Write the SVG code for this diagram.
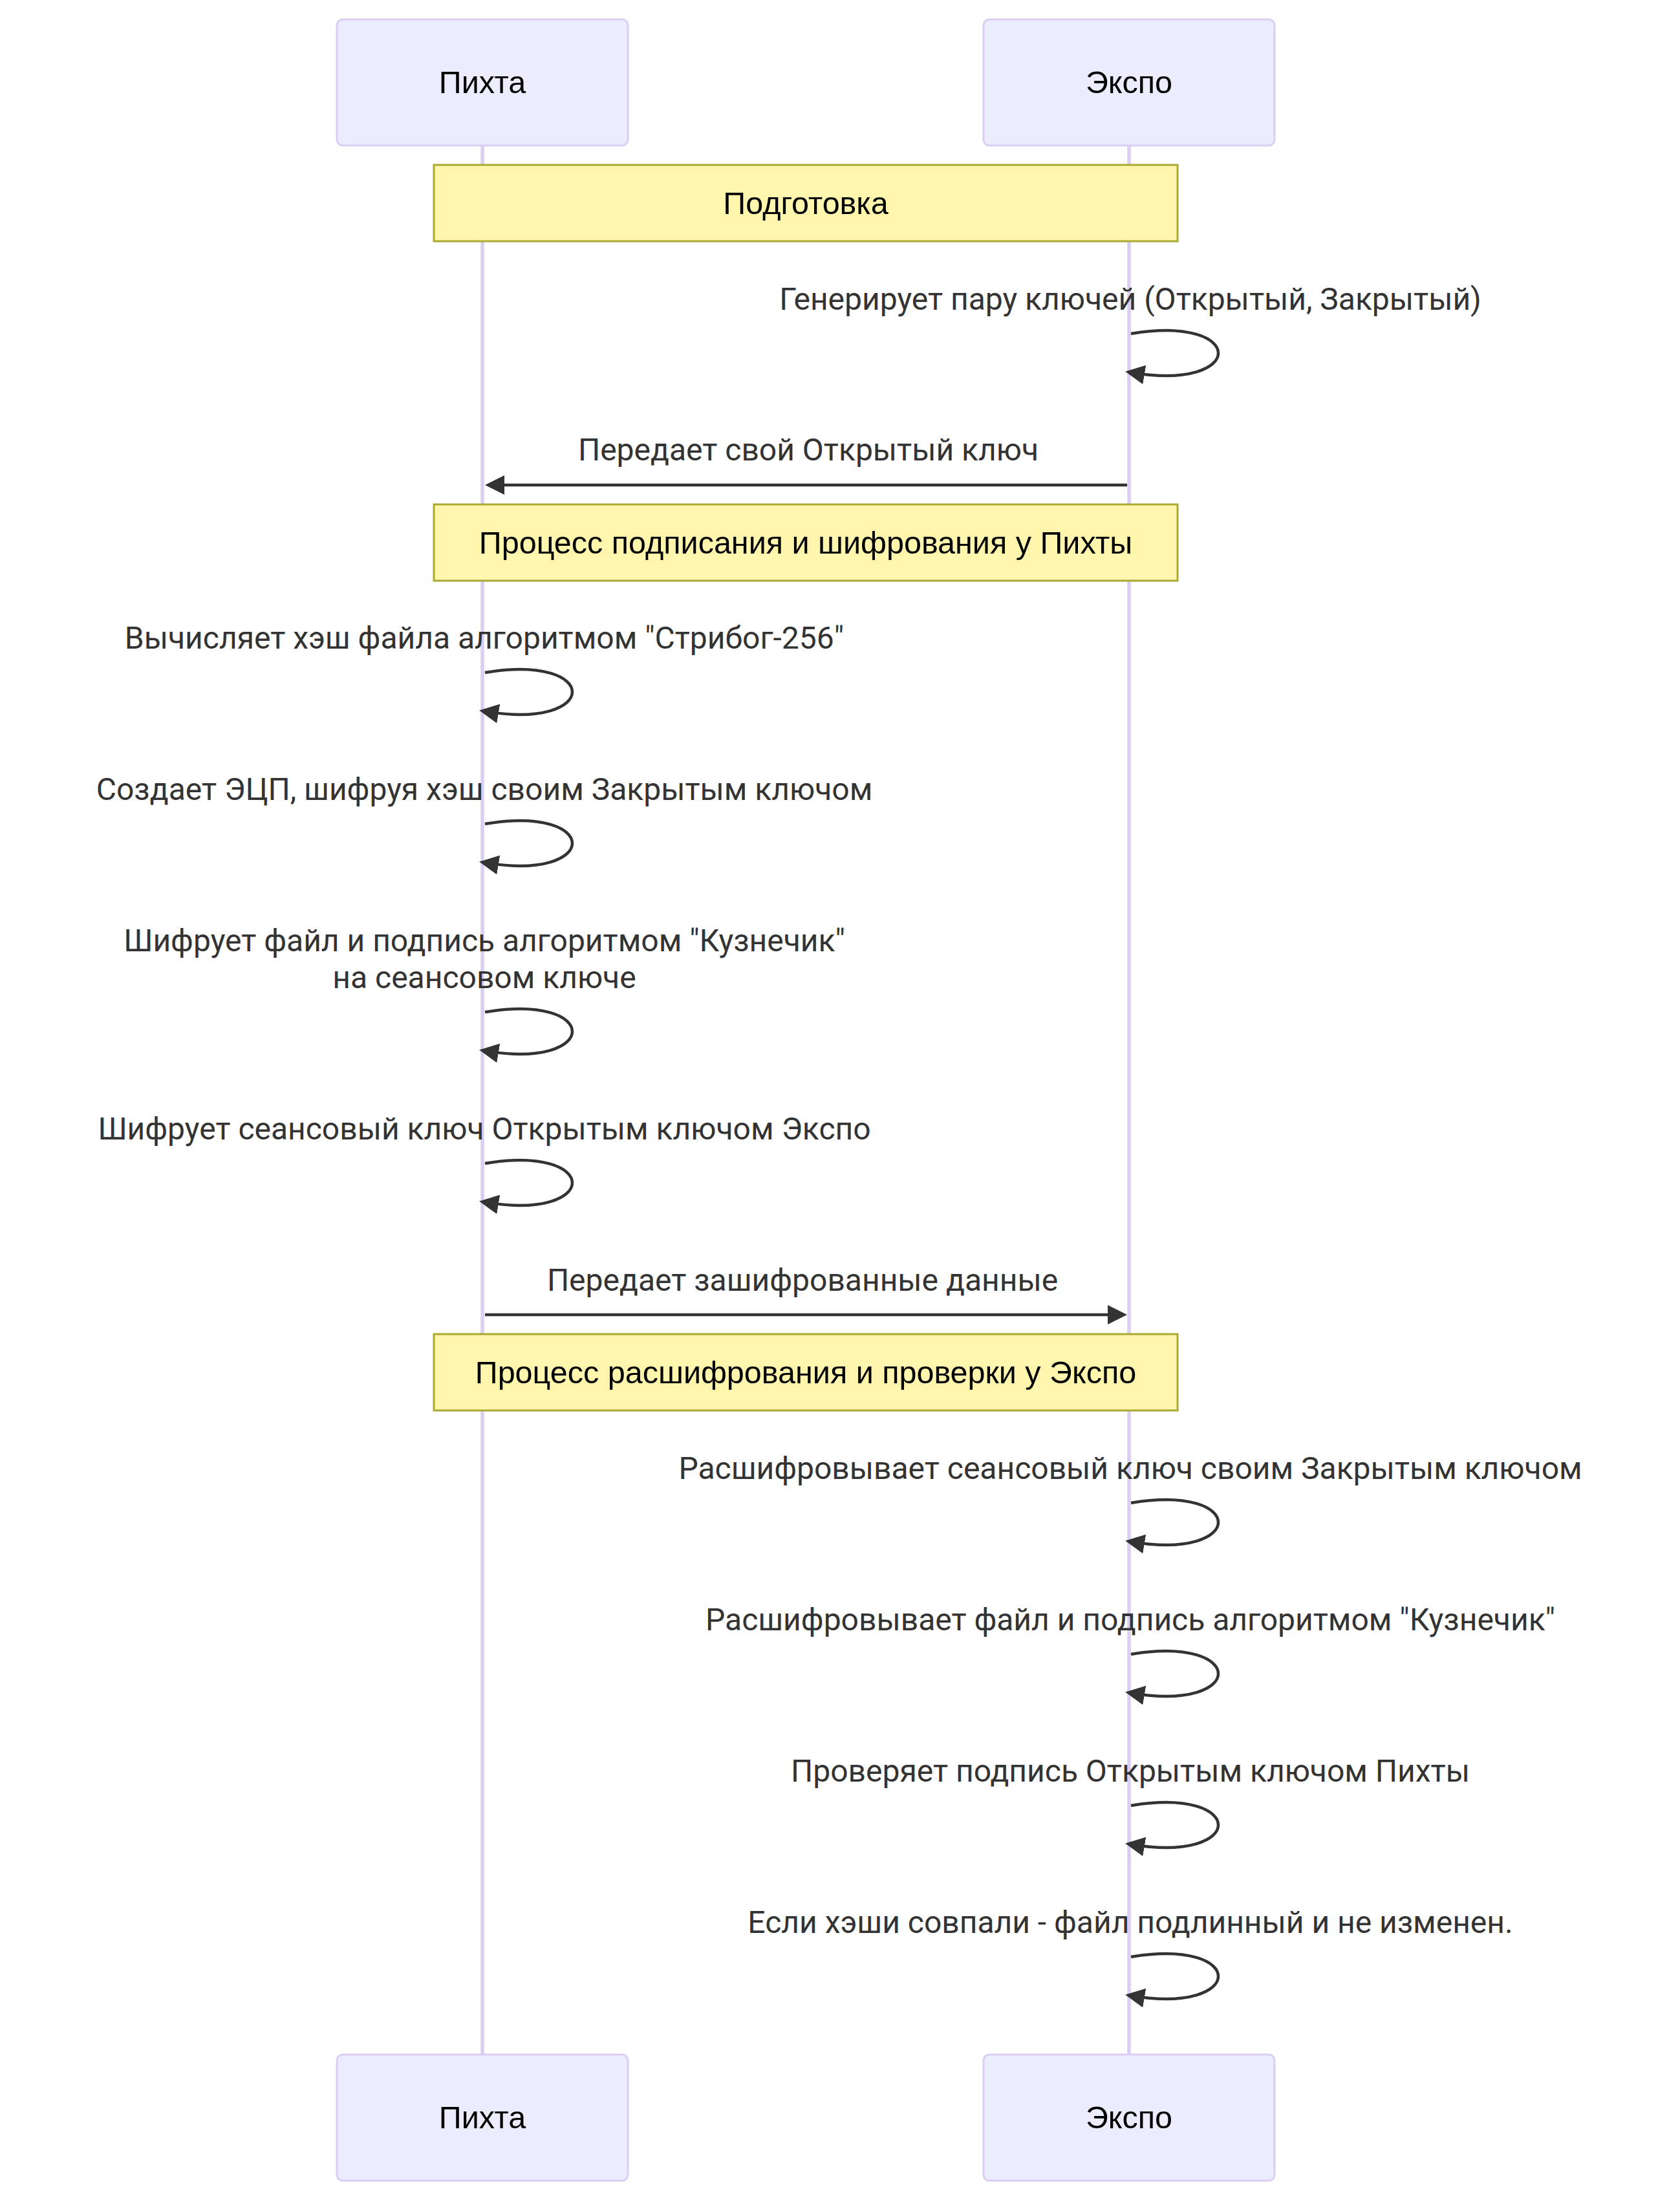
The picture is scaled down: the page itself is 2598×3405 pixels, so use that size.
<svg xmlns="http://www.w3.org/2000/svg" width="2598" height="3405" viewBox="0 0 2598 3405">
  <style>
    .actor rect { fill: #ECECFF; stroke: hsl(259.6, 59.7%, 87.9%); stroke-width: 3; }
    .actor text { font-family: "Liberation Sans", Arial, sans-serif; font-size: 48.5px; fill: #000; text-anchor: middle; }
    .lifeline { stroke: hsl(259.6, 59.7%, 87.9%); stroke-width: 5.5; }
    .note rect { fill: #FFF5AD; stroke: #AAAA33; stroke-width: 3; }
    .note text { font-family: "Liberation Sans", Arial, sans-serif; font-size: 48.5px; fill: #000; text-anchor: middle; }
    .msg { stroke: #333; stroke-width: 4.5; fill: none; }
    .msgText { font-family: Roboto, "Liberation Sans", sans-serif; font-size: 48px; fill: #333; text-anchor: middle; }
  </style>
  <defs>
    <marker id="arrowhead" markerUnits="userSpaceOnUse" markerWidth="36" markerHeight="36" refX="21" refY="15" orient="auto">
      <path d="M0,0 L30,15 L0,30 z" fill="#333"/>
    </marker>
  </defs>
  <rect width="2598" height="3405" fill="#fff"/>

  <!-- lifelines -->
  <g id="lifelines">
    <line class="lifeline" x1="746" y1="225" x2="746" y2="3177"/>
    <line class="lifeline" x1="1746" y1="225" x2="1746" y2="3177"/>
  </g>

  <!-- participants, top row -->
  <g id="actor-pikhta-top" class="actor">
    <rect x="521" y="30" width="450" height="195" rx="9"/>
    <text x="746" y="144">Пихта</text>
  </g>
  <g id="actor-ekspo-top" class="actor">
    <rect x="1521" y="30" width="450" height="195" rx="9"/>
    <text x="1746" y="144">Экспо</text>
  </g>

  <!-- notes spanning both lifelines -->
  <g id="note-prep" class="note">
    <rect x="671" y="255" width="1150" height="118"/>
    <text x="1246" y="331">Подготовка</text>
  </g>
  <g id="note-sign" class="note">
    <rect x="671" y="780" width="1150" height="118"/>
    <text x="1246" y="856">Процесс подписания и шифрования у Пихты</text>
  </g>
  <g id="note-verify" class="note">
    <rect x="671" y="2063" width="1150" height="118"/>
    <text x="1246" y="2139">Процесс расшифрования и проверки у Экспо</text>
  </g>

  <!-- messages -->
  <g id="messages">
    <text class="msgText" x="1748" y="479">Генерирует пару ключей (Открытый, Закрытый)</text>
    <path class="msg" d="M1749,516 C1929,486 1929,606 1749,576" marker-end="url(#arrowhead)"/>

    <text class="msgText" x="1250" y="712">Передает свой Открытый ключ</text>
    <line class="msg" x1="1743" y1="750" x2="759" y2="750" marker-end="url(#arrowhead)"/>

    <text class="msgText" x="749" y="1003">Вычисляет хэш файла алгоритмом "Стрибог-256"</text>
    <path class="msg" d="M750,1040 C930,1010 930,1130 750,1100" marker-end="url(#arrowhead)"/>

    <text class="msgText" x="749" y="1237">Создает ЭЦП, шифруя хэш своим Закрытым ключом</text>
    <path class="msg" d="M750,1274 C930,1244 930,1364 750,1334" marker-end="url(#arrowhead)"/>

    <text class="msgText" x="749" y="1471">Шифрует файл и подпись алгоритмом "Кузнечик"</text>
    <text class="msgText" x="749" y="1528">на сеансовом ключе</text>
    <path class="msg" d="M750,1565 C930,1535 930,1655 750,1625" marker-end="url(#arrowhead)"/>

    <text class="msgText" x="749" y="1762">Шифрует сеансовый ключ Открытым ключом Экспо</text>
    <path class="msg" d="M750,1799 C930,1769 930,1889 750,1859" marker-end="url(#arrowhead)"/>

    <text class="msgText" x="1241" y="1996">Передает зашифрованные данные</text>
    <line class="msg" x1="750" y1="2033" x2="1734" y2="2033" marker-end="url(#arrowhead)"/>

    <text class="msgText" x="1748" y="2287">Расшифровывает сеансовый ключ своим Закрытым ключом</text>
    <path class="msg" d="M1749,2324 C1929,2294 1929,2414 1749,2384" marker-end="url(#arrowhead)"/>

    <text class="msgText" x="1748" y="2521">Расшифровывает файл и подпись алгоритмом "Кузнечик"</text>
    <path class="msg" d="M1749,2558 C1929,2528 1929,2648 1749,2618" marker-end="url(#arrowhead)"/>

    <text class="msgText" x="1748" y="2755">Проверяет подпись Открытым ключом Пихты</text>
    <path class="msg" d="M1749,2792 C1929,2762 1929,2882 1749,2852" marker-end="url(#arrowhead)"/>

    <text class="msgText" x="1748" y="2989">Если хэши совпали - файл подлинный и не изменен.</text>
    <path class="msg" d="M1749,3026 C1929,2996 1929,3116 1749,3086" marker-end="url(#arrowhead)"/>
  </g>

  <!-- participants, bottom row -->
  <g id="actor-pikhta-bottom" class="actor">
    <rect x="521" y="3177" width="450" height="195" rx="9"/>
    <text x="746" y="3291">Пихта</text>
  </g>
  <g id="actor-ekspo-bottom" class="actor">
    <rect x="1521" y="3177" width="450" height="195" rx="9"/>
    <text x="1746" y="3291">Экспо</text>
  </g>
</svg>
